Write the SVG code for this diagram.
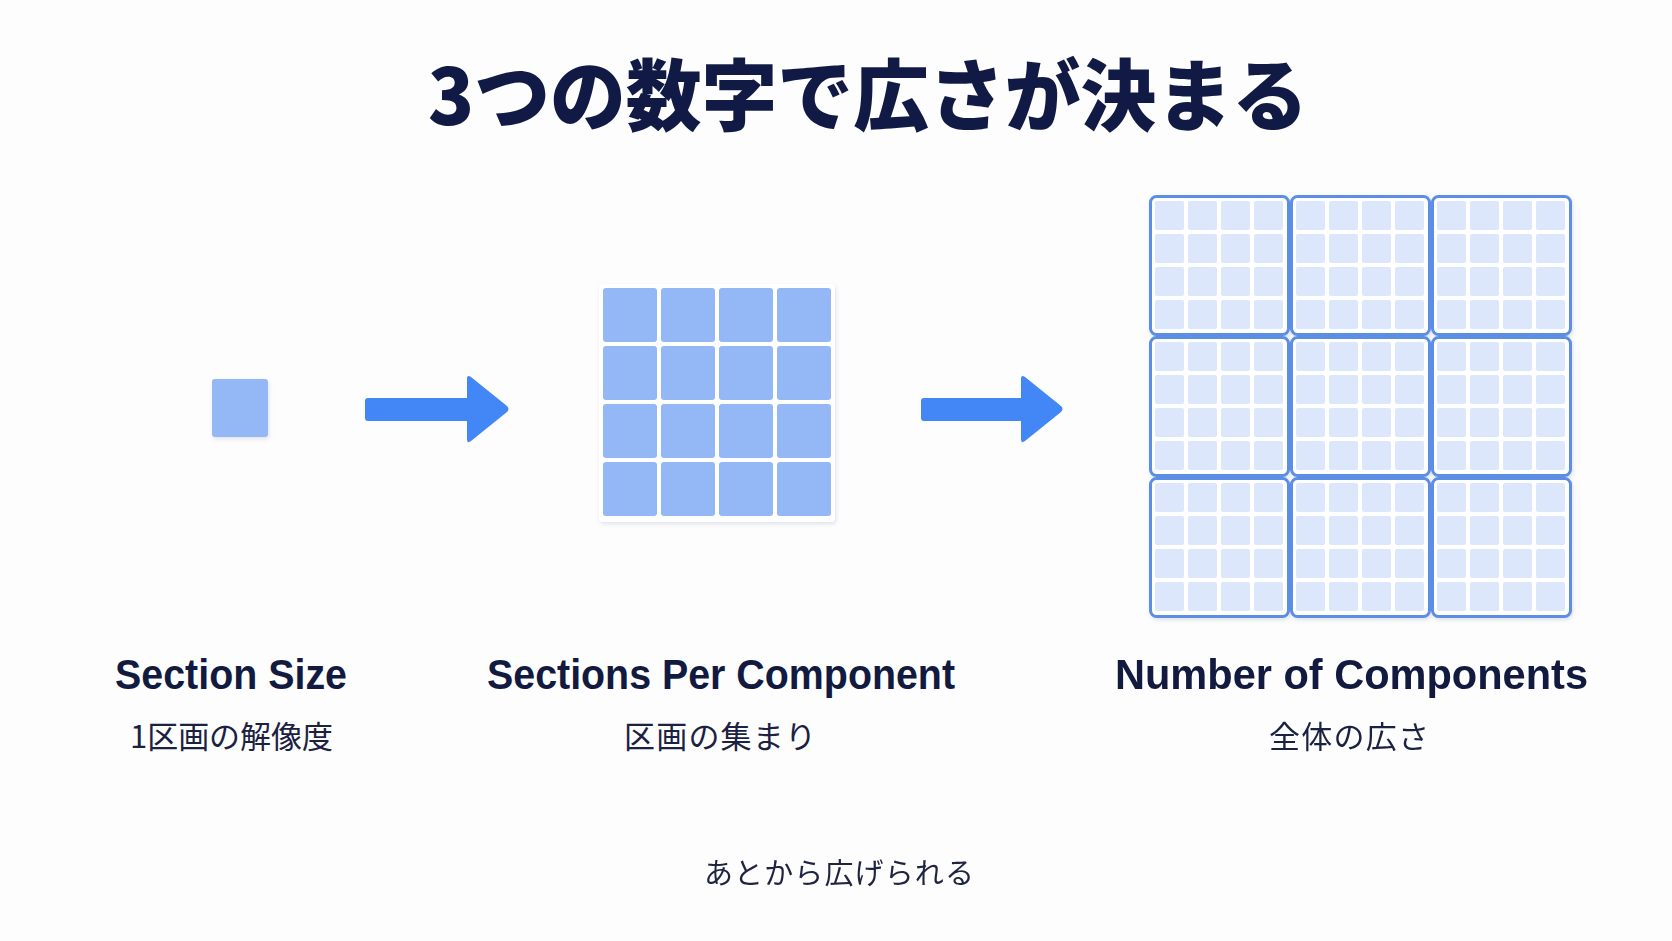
<svg xmlns="http://www.w3.org/2000/svg" width="1672" height="941" viewBox="0 0 1672 941">
<defs>
<style>
.title{font-family:"Noto Sans CJK JP","Noto Sans",sans-serif;font-weight:900;font-size:78px;fill:#101a44;text-anchor:middle}
.label{font-family:"Liberation Sans",Arial,sans-serif;font-weight:700;font-size:42px;fill:#121a3f;text-anchor:middle}
.sub{font-family:"Noto Sans CJK JP","Noto Sans",sans-serif;font-weight:400;font-size:31px;fill:#1b2140;text-anchor:middle}
.note{font-family:"Noto Sans CJK JP","Noto Sans",sans-serif;font-weight:400;font-size:29px;fill:#1f2440;text-anchor:middle}
.cell{fill:#94b7f5}
.mini{fill:#dce7fb}
.comp{fill:#ffffff;stroke:#5b8ee6;stroke-width:3}
.arrow{fill:#4287f5}
</style>
<filter id="sh" x="-20%" y="-20%" width="140%" height="140%">
<feDropShadow dx="1" dy="2" stdDeviation="2" flood-color="#8090b0" flood-opacity="0.25"/>
</filter>
<g id="comp">
<rect class="comp" x="1.5" y="1.5" width="138" height="138" rx="6"/>
<g class="mini">
<rect x="6" y="6" width="29" height="29" rx="2"/><rect x="39" y="6" width="29" height="29" rx="2"/><rect x="72" y="6" width="29" height="29" rx="2"/><rect x="105" y="6" width="29" height="29" rx="2"/>
<rect x="6" y="39" width="29" height="29" rx="2"/><rect x="39" y="39" width="29" height="29" rx="2"/><rect x="72" y="39" width="29" height="29" rx="2"/><rect x="105" y="39" width="29" height="29" rx="2"/>
<rect x="6" y="72" width="29" height="29" rx="2"/><rect x="39" y="72" width="29" height="29" rx="2"/><rect x="72" y="72" width="29" height="29" rx="2"/><rect x="105" y="72" width="29" height="29" rx="2"/>
<rect x="6" y="105" width="29" height="29" rx="2"/><rect x="39" y="105" width="29" height="29" rx="2"/><rect x="72" y="105" width="29" height="29" rx="2"/><rect x="105" y="105" width="29" height="29" rx="2"/>
</g>
</g>
</defs>
<rect width="1672" height="941" fill="#fdfdfe"/>
<text class="title" x="868" y="125" textLength="880" lengthAdjust="spacingAndGlyphs">3つの数字で広さが決まる</text>

<g id="section-size">
<rect x="212" y="379" width="56" height="58" rx="3" class="cell" filter="url(#sh)"/>
<text class="label" x="231" y="689" textLength="232" lengthAdjust="spacingAndGlyphs">Section Size</text>
<text class="sub" x="231.5" y="748" textLength="203" lengthAdjust="spacing">1区画の解像度</text>
</g>

<g id="sections-per-component">
<rect x="599" y="284" width="236" height="238" rx="4" fill="#ffffff" filter="url(#sh)"/>
<g class="cell">
<rect x="603" y="288" width="54" height="54" rx="3"/><rect x="661" y="288" width="54" height="54" rx="3"/><rect x="719" y="288" width="54" height="54" rx="3"/><rect x="777" y="288" width="54" height="54" rx="3"/>
<rect x="603" y="346" width="54" height="54" rx="3"/><rect x="661" y="346" width="54" height="54" rx="3"/><rect x="719" y="346" width="54" height="54" rx="3"/><rect x="777" y="346" width="54" height="54" rx="3"/>
<rect x="603" y="404" width="54" height="54" rx="3"/><rect x="661" y="404" width="54" height="54" rx="3"/><rect x="719" y="404" width="54" height="54" rx="3"/><rect x="777" y="404" width="54" height="54" rx="3"/>
<rect x="603" y="462" width="54" height="54" rx="3"/><rect x="661" y="462" width="54" height="54" rx="3"/><rect x="719" y="462" width="54" height="54" rx="3"/><rect x="777" y="462" width="54" height="54" rx="3"/>
</g>
<text class="label" x="721" y="689" textLength="468" lengthAdjust="spacingAndGlyphs">Sections Per Component</text>
<text class="sub" x="720" y="748" textLength="192" lengthAdjust="spacing">区画の集まり</text>
</g>

<g id="number-of-components">
<g filter="url(#sh)">
<use href="#comp" x="1149" y="195"/><use href="#comp" x="1290" y="195"/><use href="#comp" x="1431" y="195"/>
<use href="#comp" x="1149" y="336"/><use href="#comp" x="1290" y="336"/><use href="#comp" x="1431" y="336"/>
<use href="#comp" x="1149" y="477"/><use href="#comp" x="1290" y="477"/><use href="#comp" x="1431" y="477"/>
</g>
<text class="label" x="1351.5" y="689" textLength="473" lengthAdjust="spacingAndGlyphs">Number of Components</text>
<text class="sub" x="1349" y="748" textLength="160" lengthAdjust="spacing">全体の広さ</text>
</g>

<g id="connectors">
<path class="arrow" d="M368,398 H467 V379 Q467,374 471,377 L507,406 Q510,409 507,412 L471,441 Q467,444 467,439 V421 H368 Q365,421 365,418 V401 Q365,398 368,398 Z"/>
<path class="arrow" d="M924,398 H1021 V379 Q1021,374 1025,377 L1061,406 Q1064,409 1061,412 L1025,441 Q1021,444 1021,439 V421 H924 Q921,421 921,418 V401 Q921,398 924,398 Z"/>
</g>

<g id="footnote">
<text class="note" x="839" y="884" textLength="270" lengthAdjust="spacing">あとから広げられる</text>
</g>
</svg>
